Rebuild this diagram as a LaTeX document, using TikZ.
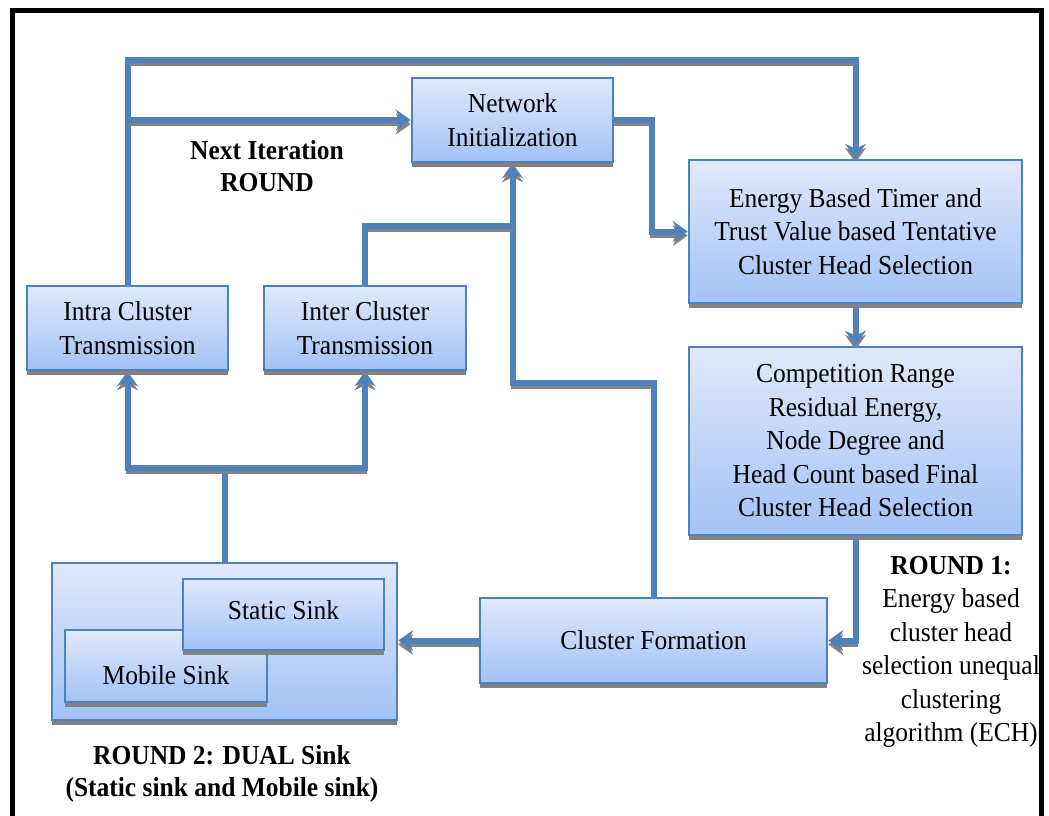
\documentclass[tikz,border=0pt]{standalone}
\usepackage{fontspec}
\setmainfont[FakeStretch=0.93]{Liberation Serif}
\usetikzlibrary{arrows.meta}
\pgfdeclarelayer{links}
\pgfsetlayers{links,main}
\definecolor{flowblue}{RGB}{79,129,189}
\definecolor{shadegray}{RGB}{130,130,130}
\definecolor{boxtop}{RGB}{223,233,251}
\definecolor{boxbottom}{RGB}{163,194,246}

\begin{document}
\begin{tikzpicture}[x=1pt,y=-1pt,
  every node/.style={font=\fontsize{27.4}{33.5}\selectfont, align=center, inner sep=0pt},
  flowbox/.style={draw=flowblue, line width=2.5pt, top color=boxtop, bottom color=boxbottom,
    preaction={fill=shadegray, transform canvas={yshift=-5pt}}},
  flowline/.style={draw=flowblue, line width=6pt,
    preaction={draw=shadegray, line width=4pt, transform canvas={yshift=-4pt}}},
  flowarrow/.style={flowline, -{Stealth[length=15pt,width=21pt,inset=5pt]}},
  boldtext/.style={font=\bfseries\fontsize{27.4}{32.5}\selectfont}]

\useasboundingbox (0,0) rectangle (1049,815);
\clip (0,0) rectangle (1049,815);

% process boxes
\node[flowbox, minimum width=201pt, minimum height=84pt] (ni) at (512.5,120) {Network\\Initialization};
\node[flowbox, minimum width=333pt, minimum height=143pt] (eb) at (855.5,231.5)
  {Energy Based Timer and\\Trust Value based Tentative\\Cluster Head Selection};
\node[flowbox, minimum width=333pt, minimum height=188pt] (cr) at (855.5,441)
  {Competition Range\\Residual Energy,\\Node Degree and\\Head Count based Final\\Cluster Head Selection};
\node[flowbox, minimum width=347pt, minimum height=85pt] (cf) at (653.5,640.5) {Cluster Formation};
\node[flowbox, minimum width=201pt, minimum height=84pt] (intra) at (127.5,328) {Intra Cluster\\Transmission};
\node[flowbox, minimum width=202pt, minimum height=84pt] (inter) at (365,328) {Inter Cluster\\Transmission};

% dual sink group
\node[flowbox, minimum width=345pt, minimum height=157pt] (sinks) at (224.5,641.5) {};
\node[flowbox, minimum width=202pt, minimum height=72pt] (mobile) at (166,666)
  {\raisebox{-9pt}[\height][\depth]{Mobile Sink}};
\node[flowbox, minimum width=201pt, minimum height=71pt] (static) at (283.5,614.5)
  {\raisebox{4.5pt}[\height][\depth]{Static Sink}};

% captions
\node[boldtext] (iter) at (267,166) {Next Iteration\\ROUND};
\node[boldtext] (round2) at (222,774) {ROUND 2: DUAL Sink\\(Static sink and Mobile sink)};
\node (round1) at (951,652) {\textbf{ROUND 1:}\\Energy based\\cluster head\\selection unequal\\clustering\\algorithm (ECH)};

% connectors
\begin{pgfonlayer}{links}
\coordinate (topL) at (127.5,60);
\coordinate (topR) at (855.5,60);
\coordinate (iterL) at (127.5,120);
\draw[flowarrow] (intra.north) -- (topL) -- (topR) -- (eb.north);
\draw[flowarrow] (iterL) -- (ni.west);
\coordinate (niBend) at (652,120);
\draw[flowarrow] (ni.east) -- (niBend) |- (eb.west);
\draw[flowarrow] (eb.south) -- (cr.north);
\draw[flowarrow] (cr.south) |- (cf.east);
\coordinate (cfBend) at (653.5,383);
\draw[flowarrow] (cf.north) -- (cfBend) -| (ni.south);
\coordinate (interJoin) at (512.5,226);
\draw[flowline] (inter.north) |- (interJoin);
\draw[flowarrow] (cf.west) -- (cf.west -| sinks.east);
\coordinate (split) at (224.5,468);
\draw[flowline] (sinks.north) -- (split);
\draw[flowarrow] (split) -| (intra.south);
\draw[flowarrow] (split) -| (inter.south);
\end{pgfonlayer}

% outer frame
\draw[line width=5pt] (12.5,840) -- (12.5,10.8) -- (1041.5,10.8) -- (1041.5,840);
\end{tikzpicture}
\end{document}
